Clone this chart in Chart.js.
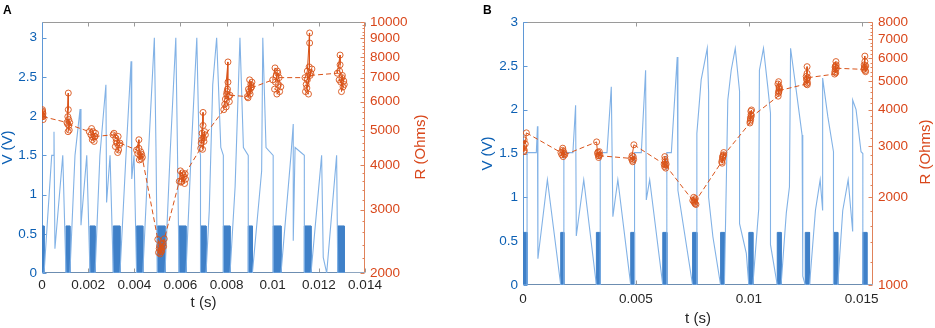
<!DOCTYPE html>
<html><head><meta charset="utf-8">
<script src="https://cdn.jsdelivr.net/npm/chart.js@4.4.1/dist/chart.umd.min.js"></script>
<style>
html,body{margin:0;padding:0;background:#fff;width:935px;height:328px;overflow:hidden}
canvas{position:absolute;top:0}
#cA{left:0;width:467px;height:328px}
#cB{left:467px;width:468px;height:328px}
</style></head><body>
<canvas id="cA" width="467" height="328"></canvas>
<canvas id="cB" width="468" height="328"></canvas>
<script>
// ---------- Tick labels ----------
const tTicksA = [0, 0.002, 0.004, 0.006, 0.008, 0.01, 0.012, 0.014];
const vTicksA = [0, 0.5, 1, 1.5, 2, 2.5, 3];
const rTicksA = [2000, 3000, 4000, 5000, 6000, 7000, 8000, 9000, 10000];
const tTicksB = [0, 0.005, 0.01, 0.015];
const vTicksB = [0, 0.5, 1, 1.5, 2, 2.5, 3];
const rTicksB = [1000, 2000, 3000, 4000, 5000, 6000, 7000, 8000];

// ---------- Panel A : stimulation pulses (s) ----------
const pulseHeight = 0.6;
const pulseStartA = [0, 0.00104, 0.00208, 0.00309, 0.0041, 0.005, 0.00594, 0.00687, 0.00786, 0.00894, 0.01002, 0.01137, 0.01282];
const pulseEndA   = [0.00009, 0.00121, 0.0023, 0.00338, 0.00437, 0.00533, 0.00624, 0.00711, 0.00815, 0.00912, 0.01036, 0.01166, 0.0131];

// ---------- Panel A : voltage trace ----------
const traceTimeA = [
  0, 0.00009, 0.00042, 0.0005, 0.00052, 0.00056, 0.0009, 0.00104,
  0.00121, 0.00143, 0.00165, 0.00169, 0.00194, 0.00208,
  0.0023, 0.00251, 0.00277, 0.0028, 0.00295, 0.00309,
  0.00338, 0.00364, 0.00386, 0.00389, 0.00399, 0.0041,
  0.00437, 0.00461, 0.00487, 0.00494, 0.005,
  0.00533, 0.00555, 0.0058, 0.00587, 0.00594,
  0.00624, 0.00646, 0.00671, 0.00681, 0.00687, 0.00687,
  0.00711, 0.00725, 0.0074, 0.00757, 0.00775, 0.00786, 0.00786,
  0.00815, 0.00837, 0.00858, 0.00873, 0.00894, 0.00894,
  0.00912, 0.00952, 0.00957, 0.00971, 0.01002, 0.01002,
  0.01036, 0.01079, 0.01089, 0.01089, 0.01097, 0.01137, 0.01137,
  0.01166, 0.01212, 0.01219, 0.01234, 0.01277, 0.01282,
  0.0131, 0.014];
const traceVoltA = [
  0, 0, 1.5, 1.5, 1.8, 0.31, 1.5, 0,
  0, 1.5, 2.09, 0.61, 1.5, 0,
  0, 1.5, 2.4, 0.9, 1.5, 0,
  0, 1.5, 2.7, 1.2, 1.5, 0,
  0, 1.5, 3.0, 1.6, 0,
  0, 1.5, 3.0, 1.6, 0,
  0, 1.5, 3.0, 1.6, 1.5, 0,
  0, 0.8, 2.4, 3.0, 1.6, 1.5, 0,
  0, 1.1, 3.0, 1.6, 1.5, 0,
  0, 1.3, 3.0, 1.6, 1.5, 0,
  0, 1.5, 1.9, 0.41, 1.6, 1.5, 0,
  0, 1.5, 0.2, 0, 1.5, 0,
  0, 0];

// ---------- Panel A : resistance measurements ----------
const resTimeA = [
  0, 0.00002, 0.00004, 0.00001, 0.00003, 0.00005, 0.00002, 0.00004,
  0.00108, 0.00114, 0.00114, 0.00112, 0.00116, 0.00118, 0.00113, 0.0012, 0.00116, 0.00111,
  0.00205, 0.00215, 0.00222, 0.0023, 0.00218, 0.00226, 0.00212, 0.00232, 0.0022, 0.00228,
  0.00308, 0.00312, 0.0032, 0.0033, 0.00325, 0.00318, 0.00332, 0.00328, 0.00336, 0.00322, 0.00338,
  0.0041, 0.0042, 0.0042, 0.00425, 0.0043, 0.00415, 0.00435, 0.00428, 0.00422, 0.00432,
  0.00502, 0.0051, 0.00515, 0.00505, 0.0052, 0.00525, 0.0053, 0.00518, 0.00512, 0.00522, 0.00508, 0.00527, 0.00516,
  0.00595, 0.006, 0.00605, 0.00612, 0.00618, 0.00608, 0.00622, 0.00615, 0.00602, 0.0062,
  0.00688, 0.00698, 0.00698, 0.00694, 0.007, 0.0069, 0.00705, 0.00696, 0.00702, 0.00708, 0.00692,
  0.00788, 0.00806, 0.00806, 0.00804, 0.008, 0.00795, 0.0081, 0.00792, 0.00798, 0.00812, 0.00802, 0.00815,
  0.0089, 0.00895, 0.009, 0.00905, 0.00898, 0.00908, 0.00902, 0.0091, 0.00893, 0.00906,
  0.01, 0.0101, 0.0102, 0.01015, 0.01025, 0.01008, 0.0103, 0.01018, 0.01035, 0.01022, 0.01012, 0.01028,
  0.0114, 0.0115, 0.0116, 0.0116, 0.01158, 0.01145, 0.01155, 0.01142, 0.01165, 0.0115, 0.0117, 0.01148, 0.01162,
  0.0128, 0.01292, 0.01292, 0.0129, 0.013, 0.01295, 0.01305, 0.01288, 0.0131, 0.01298, 0.01302, 0.01308];
const resOhmsA = [
  5500, 5700, 5550, 5450, 5600, 5350, 5650, 5450,
  5250, 6340, 5700, 5450, 5150, 5000, 4950, 5250, 5350, 5200,
  4950, 5050, 4950, 4800, 4700, 4650, 4850, 4900, 4780, 4800,
  4850, 4900, 4750, 4800, 4600, 4500, 4400, 4330, 4550, 4650, 4600,
  4400, 4700, 4450, 4250, 4150, 4300, 4200, 4350, 4130, 4280,
  2480, 2380, 2320, 2280, 2350, 2420, 2490, 2300, 2260, 2400, 2340, 2370, 2290,
  3600, 3850, 3600, 3750, 3550, 3800, 3650, 3700, 3580, 3780,
  4450, 5600, 5150, 4900, 4750, 4600, 4950, 4420, 4650, 4850, 4700,
  5700, 7740, 6800, 6500, 6300, 6100, 6200, 5900, 5800, 6000, 6400, 6250,
  6200, 6500, 6900, 6700, 6400, 6600, 6300, 6800, 6150, 6550,
  6900, 7450, 7300, 7100, 6700, 6500, 6400, 6300, 6600, 7200, 6800, 7000,
  7000, 7300, 9320, 8740, 7500, 6700, 6300, 6400, 7200, 6900, 7400, 6550, 7100,
  7200, 8090, 7600, 7300, 7000, 6800, 6600, 6900, 6700, 6400, 7100, 6850];

// ---------- Panel B : stimulation pulses ----------
const pulseStartB = [0, 0.00167, 0.00325, 0.00477, 0.00619, 0.00751, 0.00875, 0.01, 0.01126, 0.0125, 0.01375, 0.01505];
const pulseEndB   = [0.00018, 0.00181, 0.00342, 0.00494, 0.00637, 0.0077, 0.00892, 0.01018, 0.01143, 0.01269, 0.01394, 0.01523];

// ---------- Panel B : voltage trace ----------
const traceTimeB = [
  0, 0.00018, 0.00018, 0.00059, 0.00064, 0.00066, 0.00108, 0.00167,
  0.00181, 0.00181, 0.00221, 0.00233, 0.00236, 0.00269, 0.00325,
  0.00342, 0.00342, 0.00372, 0.00391, 0.00398, 0.0042, 0.00477,
  0.00494, 0.00494, 0.00524, 0.00543, 0.00546, 0.00561, 0.00619,
  0.00637, 0.00637, 0.00657, 0.00683, 0.00686, 0.00751,
  0.0077, 0.0077, 0.00789, 0.00816, 0.00822, 0.00822, 0.00841, 0.00875,
  0.00892, 0.00907, 0.00922, 0.0094, 0.00959, 0.00959, 0.00989, 0.01,
  0.01018, 0.01044, 0.01047, 0.01065, 0.01084, 0.01096, 0.01096, 0.01126,
  0.01143, 0.01166, 0.0118, 0.01185, 0.0121, 0.01236, 0.01239, 0.0125,
  0.01269, 0.01295, 0.01316, 0.01327, 0.01327, 0.0135, 0.01375, 0.01375,
  0.01394, 0.01416, 0.0144, 0.0146, 0.0146, 0.01475, 0.01497, 0.01505, 0.01505,
  0.01523, 0.0155];
const traceVoltB = [
  0, 0, 1.51, 1.51, 1.81, 0.3, 1.2, 0,
  0, 1.51, 1.51, 2.05, 0.56, 1.2, 0,
  0, 1.51, 1.51, 2.26, 0.78, 1.2, 0,
  0, 1.51, 1.51, 2.45, 0.97, 1.2, 0,
  0, 1.51, 1.51, 2.6, 1.08, 0,
  0, 1.73, 2.34, 2.7, 2.2, 1.0, 0.55, 0,
  0, 2.11, 2.45, 2.7, 2.21, 0.7, 0.36, 0,
  0, 0.87, 2.45, 2.7, 2.26, 1.96, 0.46, 0,
  0, 0.82, 1.12, 2.7, 2.22, 1.71, 0.1, 0,
  0, 0.85, 1.2, 0.85, 2.36, 1.92, 1.52, 0,
  0, 0.85, 1.2, 0.61, 2.11, 2.0, 1.52, 1.5, 0,
  0, 0];

// ---------- Panel B : resistance measurements ----------
const resTimeB = [
  0.00002, 0.00004, 0.00003, 0.00006, 0.00005, 0.0001, 0.00015,
  0.00168, 0.00172, 0.00175, 0.00178, 0.00182, 0.00176, 0.0018, 0.00185,
  0.00326, 0.0033, 0.00334, 0.00338, 0.00335, 0.0034, 0.00332, 0.00337,
  0.0048, 0.00484, 0.00488, 0.00486, 0.0049, 0.00483, 0.00491,
  0.00625, 0.00628, 0.0063, 0.00627, 0.00632, 0.00629, 0.00634, 0.00631,
  0.00752, 0.00756, 0.00762, 0.0076, 0.00766, 0.00757, 0.00763, 0.0076,
  0.0088, 0.00883, 0.00886, 0.00889, 0.00885, 0.00882, 0.00888, 0.00884,
  0.01005, 0.01008, 0.0101, 0.01012, 0.01009, 0.01006, 0.01011, 0.01007,
  0.0113, 0.01133, 0.01135, 0.01132, 0.01129, 0.01136, 0.01131, 0.01134, 0.01133,
  0.01255, 0.01258, 0.01258, 0.01256, 0.0126, 0.01254, 0.01259, 0.01257, 0.01261,
  0.0138, 0.01383, 0.01386, 0.01384, 0.01381, 0.01387, 0.01382, 0.01385, 0.01388,
  0.0151, 0.01514, 0.01514, 0.01512, 0.01516, 0.01511, 0.01517, 0.01513, 0.01518];
const resOhmsB = [
  2950, 2870, 3000, 2900, 3150, 3050, 3330,
  2850, 2800, 2900, 2760, 2820, 2950, 2870, 2800,
  3100, 2830, 2780, 2870, 2740, 2800, 2860, 2780,
  2720, 2680, 2760, 2650, 2700, 2780, 3030,
  2600, 2760, 2650, 2550, 2520, 2700, 2600, 2580,
  1950, 2000, 1900, 1960, 1890, 1930, 1980, 1920,
  2650, 2700, 2780, 2850, 2740, 2620, 2800, 2760,
  3600, 3700, 3850, 3990, 3950, 3650, 3800, 3750,
  4450, 4600, 4800, 4990, 4900, 4700, 4550, 4750, 4650,
  4900, 5620, 5330, 5100, 4950, 5200, 4870, 5050, 5150,
  5300, 5500, 5850, 5650, 5400, 5700, 5600, 5350, 5550,
  5500, 6110, 5850, 5600, 5450, 5700, 5400, 5550, 5650];

// ---------- Styling ----------
const FONT = "'Liberation Sans', Arial, Helvetica, sans-serif";
Chart.defaults.font.family = FONT;
const ORANGE = '#d95319';
const ORANGE_TXT = '#d9471b';
const ORANGE_AXIS = '#e0825a';
const BLUE_TXT = '#0c60b4';
const BLUE_AXIS = '#5f98d6';
const TRACE = '#82b2e6';
const BAR = '#3f80c8';
const BOX = '#9a9a9a';
const DARK = '#262626';

const framePlugin = {
  id: 'frame',
  beforeDatasetsDraw(chart) {
    const o = chart.options.plugins.frame;
    const {ctx, chartArea: ca, scales} = chart;
    const L = ca.left + 0.5, R = ca.right - 0.5, T = ca.top + 0.5, B = ca.bottom - 0.5;
    const rs = scales.yr;
    ctx.save();
    ctx.lineWidth = 1;
    ctx.strokeStyle = BOX;
    ctx.beginPath();
    ctx.moveTo(L, T); ctx.lineTo(R, T);
    ctx.moveTo(L, B); ctx.lineTo(R, B);
    scales.x.ticks.forEach(t => {
      const px = Math.round(scales.x.getPixelForValue(t.value)) + 0.5;
      ctx.moveTo(px, T); ctx.lineTo(px, T + 4);
      ctx.moveTo(px, B); ctx.lineTo(px, B - 4);
    });
    ctx.stroke();
    ctx.strokeStyle = BLUE_AXIS;
    ctx.beginPath();
    ctx.moveTo(L, T); ctx.lineTo(L, B);
    scales.y.ticks.forEach(t => {
      const py = Math.round(scales.y.getPixelForValue(t.value)) + 0.5;
      ctx.moveTo(L, py); ctx.lineTo(L + 4, py);
    });
    ctx.stroke();
    ctx.strokeStyle = ORANGE_AXIS;
    ctx.beginPath();
    ctx.moveTo(R, T); ctx.lineTo(R, B);
    rs.ticks.forEach(t => {
      const py = Math.round(rs.getPixelForValue(t.value)) + 0.5;
      ctx.moveTo(R, py); ctx.lineTo(R - 4, py);
    });
    for (let v = rs.min; v <= rs.max; v += o.minorStep) {
      if (v % 1000 === 0) continue;
      const py = Math.round(rs.getPixelForValue(v)) + 0.5;
      ctx.moveTo(R, py); ctx.lineTo(R - 2, py);
    }
    ctx.stroke();
    ctx.restore();
  },
  afterDraw(chart) {
    const o = chart.options.plugins.frame;
    const ctx = chart.ctx;
    ctx.save();
    ctx.fillStyle = '#000';
    ctx.font = 'bold 12px ' + FONT;
    ctx.textBaseline = 'alphabetic';
    ctx.textAlign = 'left';
    ctx.fillText(o.letter, o.letterX, 13.5);
    ctx.translate(o.rTitleX, o.rTitleY);
    ctx.rotate(-Math.PI / 2);
    ctx.textAlign = 'center';
    ctx.textBaseline = 'middle';
    ctx.fillStyle = ORANGE_TXT;
    ctx.font = '15px ' + FONT;
    ctx.fillText('R (Ohms)', 0, 0);
    ctx.restore();
  }
};

function panel(id, c) {
  const bars = [];
  c.pulseStart.forEach((s, i) => {
    const e = c.pulseEnd[i];
    bars.push({x: s, y: 0}, {x: s, y: pulseHeight}, {x: e, y: pulseHeight}, {x: e, y: 0});
  });
  const trace = c.traceTime.map((t, i) => ({x: t, y: c.traceVolt[i]}));
  const res = c.resTime.map((t, i) => ({x: t, y: c.resOhms[i]}));
  const setTicks = arr => s => { s.ticks = arr.map(v => ({value: v})); };
  new Chart(document.getElementById(id), {
    type: 'line',
    data: {datasets: [
      {data: res, yAxisID: 'yr', order: 0, borderColor: ORANGE, borderWidth: 1, borderDash: [],
       pointRadius: 3, pointBorderWidth: 0.9, pointBackgroundColor: 'rgba(255,255,255,0)',
       pointBorderColor: ORANGE, tension: 0, fill: false,
       segment: {borderDash: s => Math.abs(s.p1.parsed.x - s.p0.parsed.x) > 0.0005 ? [5, 3] : undefined}},
      {data: trace, yAxisID: 'y', order: 1, borderColor: TRACE, borderWidth: 1.1, pointRadius: 0, tension: 0, fill: false},
      {data: bars, yAxisID: 'y', order: 2, borderColor: BAR, backgroundColor: BAR, borderWidth: 1, pointRadius: 0, tension: 0, fill: 'origin'}
    ]},
    options: {
      responsive: false, animation: false, events: [],
      layout: {padding: {top: 22, left: 0, right: 0, bottom: 0}},
      plugins: {legend: {display: false}, tooltip: {enabled: false},
        frame: {letter: c.letter, letterX: c.letterX, rTitleX: c.rTitleX, rTitleY: c.rTitleY, minorStep: c.minorStep}},
      scales: {
        x: {type: 'linear', position: 'bottom', min: 0, max: c.tMax,
          afterBuildTicks: setTicks(c.tTicks), afterFit: s => { s.height = c.xH; },
          grid: {display: false, drawTicks: false}, border: {display: false},
          ticks: {padding: c.xPad, color: DARK, font: {size: 13.5}, maxRotation: 0, autoSkip: false,
            callback: v => String(Number(Number(v).toFixed(4)))},
          title: {display: true, text: 't (s)', color: DARK, font: {size: 15}, padding: {top: 0, bottom: c.xTitlePad}}},
        y: {type: 'linear', position: 'left', min: 0, max: c.vMax,
          afterBuildTicks: setTicks(c.vTicks), afterFit: s => { s.width = c.yW; },
          grid: {display: false, drawTicks: false}, border: {display: false},
          ticks: {padding: 5, color: BLUE_TXT, font: {size: 13.5}, autoSkip: false, callback: v => String(v)},
          title: {display: true, text: 'V (V)', color: BLUE_TXT, font: {size: 15, lineHeight: 1}, padding: {top: c.yTitlePad, bottom: 0}}},
        yr: {type: 'logarithmic', axis: 'y', position: 'right', min: c.rMin, max: c.rMax,
          afterBuildTicks: setTicks(c.rTicks), afterFit: s => { s.width = c.rW; },
          grid: {display: false, drawTicks: false}, border: {display: false},
          ticks: {padding: 5, color: ORANGE_TXT, font: {size: 13.5}, autoSkip: false, callback: v => String(v)},
          title: {display: false}}
      }
    },
    plugins: [framePlugin]
  });
}

panel('cA', {
  letter: 'A', letterX: 3, rTitleX: 420.5, rTitleY: 147, minorStep: 200,
  pulseStart: pulseStartA, pulseEnd: pulseEndA, traceTime: traceTimeA, traceVolt: traceVoltA,
  resTime: resTimeA, resOhms: resOhmsA,
  tTicks: tTicksA, vTicks: vTicksA, rTicks: rTicksA,
  tMax: 0.014, vMax: 3.2, rMin: 2000, rMax: 10000,
  xH: 55, yW: 42, rW: 102, xPad: 4, xTitlePad: 16.5, yTitlePad: 0
});
panel('cB', {
  letter: 'B', letterX: 16, rTitleX: 458.5, rTitleY: 152, minorStep: 200,
  pulseStart: pulseStartB, pulseEnd: pulseEndB, traceTime: traceTimeB, traceVolt: traceVoltB,
  resTime: resTimeB, resOhms: resOhmsB,
  tTicks: tTicksB, vTicks: vTicksB, rTicks: rTicksB,
  tMax: 0.0155, vMax: 3, rMin: 1000, rMax: 8000,
  xH: 43, yW: 56, rW: 62, xPad: 6, xTitlePad: 0.5, yTitlePad: 13
});
</script>
</body></html>
